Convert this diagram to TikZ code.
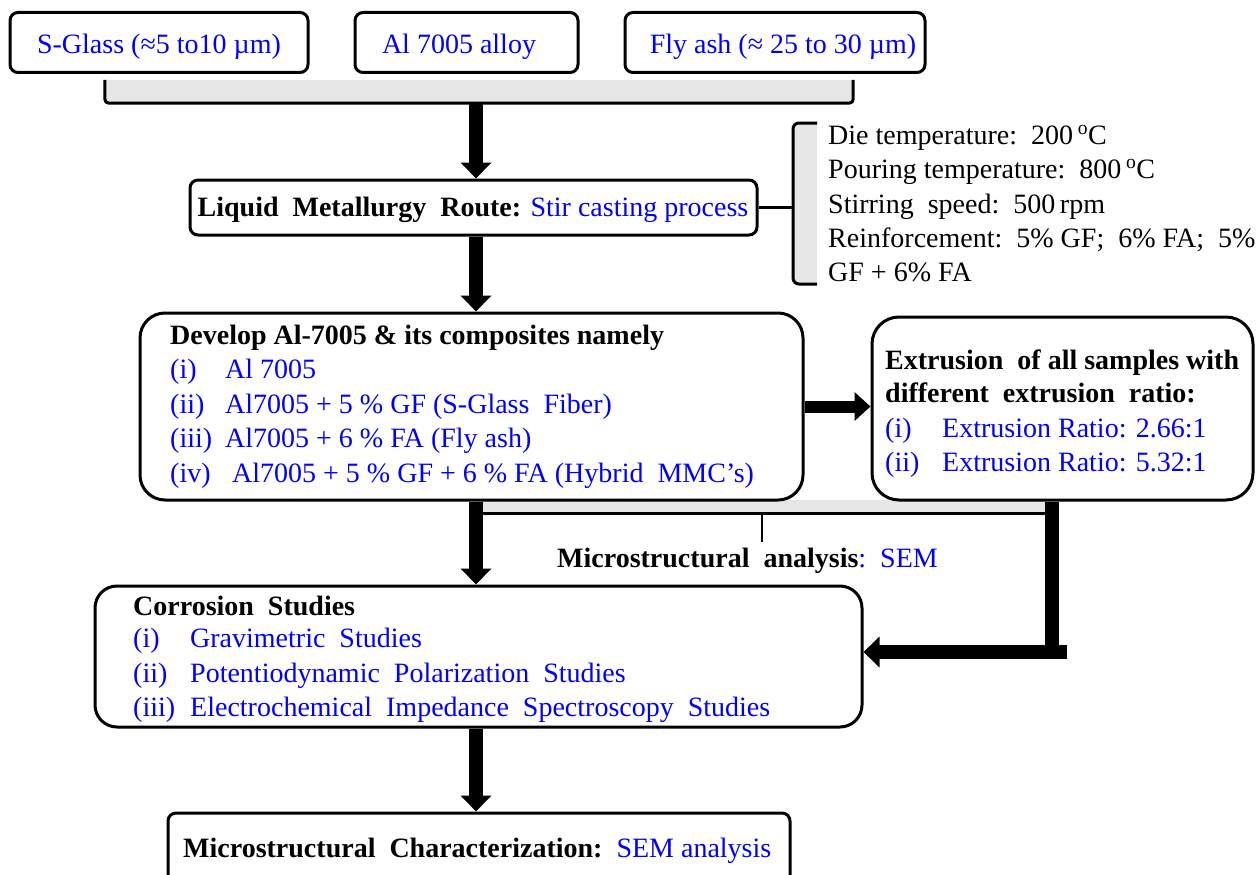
\documentclass[tikz,border=0pt]{standalone}
\usepackage{fontspec}
\setmainfont{Liberation Serif}
\usetikzlibrary{arrows.meta}
\definecolor{bandgray}{HTML}{E6E6E6}
\definecolor{txtblue}{HTML}{0000FF}
\newcommand{\lbl}[2]{\makebox[#1][l]{#2}}
\tikzset{
  box/.style={draw=black, line width=3pt, rounded corners=#1, inner sep=0pt, fill=white},
  band/.style={fill=bandgray, inner sep=0pt, draw=none},
  edge/.style={line width=3pt, rounded corners=4pt},
  bigarrow/.style={line width=14pt, -{Triangle[width=30pt,length=16pt]}},
  sidearrow/.style={line width=12pt, -{Triangle[width=28pt,length=16pt]}},
  txt/.style={inner sep=0pt, anchor=base west, font=\fontsize{28}{34}\selectfont},
  ctxt/.style={inner sep=0pt, anchor=base, font=\fontsize{28}{34}\selectfont},
  blu/.style={text=txtblue},
}
\begin{document}
\begin{tikzpicture}[x=1pt,y=-1pt]
\useasboundingbox (0,0) rectangle (1258,875);
\clip (0,0) rectangle (1258,875);
\coordinate (ax) at (476,0);

% top band
\node[band, minimum width=748pt, minimum height=23pt] (band1) at (479,91.5) {};
\draw[edge] (band1.north west) -- (band1.south west) -- (band1.south east) -- (band1.north east);

% top boxes
\node[box=8pt, minimum width=298pt, minimum height=60pt] (sg) at (159,42.5) {};
\node[ctxt, blu] (sgt) at (159,53) {S-Glass (≈5 to10 µm)};
\node[box=8pt, minimum width=223pt, minimum height=60pt] (al) at (466.5,42.5) {};
\node[ctxt, blu] (alt) at (459,53) {Al 7005 alloy};
\node[box=8pt, minimum width=300pt, minimum height=60pt] (fa) at (775,42.5) {};
\node[ctxt, blu] (fat) at (783,53) {Fly ash (≈ 25 to 30 µm)};

% liquid metallurgy
\node[box=8pt, minimum width=567pt, minimum height=55pt] (lmr) at (473.5,207.5) {};
\node[ctxt] (lmrt) at (473,216) {\bfseries Liquid\ \ Metallurgy\ \ Route: \textcolor{txtblue}{\mdseries Stir\ casting\ process}};
\draw[bigarrow] (band1.south -| ax) -- (lmr.north -| ax);

% brace with parameters
\coordinate (brc) at (793,205);
\fill[bandgray] (793,123) rectangle (817,284);
\draw[edge, rounded corners=6pt] (817,123) -- (793,123) -- (793,284) -- (817,284);
\draw[line width=3pt] (lmr.east) -- (lmr.east -| brc);
\node[txt] (p1) at (828,144) {Die temperature:\ \ 200\,\textsuperscript{o}C};
\node[txt] (p2) at (828,178) {Pouring temperature:\ \ 800\,\textsuperscript{o}C};
\node[txt] (p3) at (828,213) {Stirring\ \ speed:\ \ 500\,rpm};
\node[txt] (p4) at (828,247) {Reinforcement:\ \ 5\% GF;\ \ 6\% FA;\ \ 5\%};
\node[txt] (p5) at (828,281) {GF + 6\% FA};

% second band
\node[band, minimum width=576pt, minimum height=13pt] (band2) at (764,506.5) {};
\draw[edge, rounded corners=0pt] (band2.south west) -- (band2.south east);
\coordinate (tk) at (762,542);
\draw[line width=2pt] (tk |- band2.south) -- (tk);

% develop box
\node[box=25pt, minimum width=663pt, minimum height=187pt] (dev) at (471.5,406.5) {};
\draw[bigarrow] (lmr.south -| ax) -- (dev.north -| ax);
\node[txt] (d0) at (170,344) {\bfseries Develop Al-7005 \& its composites namely};
\node[txt, blu] (d1) at (170,378) {\lbl{55pt}{(i)}Al 7005};
\node[txt, blu] (d2) at (170,413) {\lbl{55pt}{(ii)}Al7005 + 5 \% GF (S-Glass\ \ Fiber)};
\node[txt, blu] (d3) at (170,447) {\lbl{55pt}{(iii)}Al7005 + 6 \% FA (Fly ash)};
\node[txt, blu] (d4) at (170,482) {\lbl{62pt}{(iv)}Al7005 + 5 \% GF + 6 \% FA (Hybrid\ \ MMC’s)};

% extrusion box
\node[box=27pt, minimum width=381pt, minimum height=183pt] (ext) at (1062.5,408.5) {};
\draw[sidearrow] (dev.east) -- (dev.east -| ext.west);
\node[txt] (e0) at (885,369) {\bfseries Extrusion\ \ of all samples with};
\node[txt] (e1) at (885,402) {\bfseries different\ \ extrusion\ \ ratio:};
\node[txt, blu] (e2) at (885,437) {\lbl{57pt}{(i)}Extrusion Ratio: 2.66:1};
\node[txt, blu] (e3) at (885,471) {\lbl{57pt}{(ii)}Extrusion Ratio: 5.32:1};

% microstructural analysis label
\node[txt] (mat) at (557,567) {\bfseries Microstructural\ \ analysis\textcolor{txtblue}{\mdseries :\ \ SEM}};

% corrosion box
\node[box=22pt, minimum width=767pt, minimum height=141pt] (cor) at (478.5,656.5) {};
\draw[bigarrow] (dev.south -| ax) -- (cor.north -| ax);
\node[txt] (c0) at (133,615) {\bfseries Corrosion\ \ Studies};
\node[txt, blu] (c1) at (133,647) {\lbl{57pt}{(i)}Gravimetric\ \ Studies};
\node[txt, blu] (c2) at (133,682) {\lbl{57pt}{(ii)}Potentiodynamic\ \ Polarization\ \ Studies};
\node[txt, blu] (c3) at (133,716) {\lbl{57pt}{(iii)}Electrochemical\ \ Impedance\ \ Spectroscopy\ \ Studies};

% right return connector
\coordinate (rcb) at (1052,659);
\coordinate (rce) at (1067,652);
\draw[line width=14pt] (rcb |- ext.south) -- (rcb);
\draw[bigarrow] (rce) -- (rce -| cor.east);

% final box
\node[box=8pt, minimum width=622pt, minimum height=90pt] (fin) at (479,858) {};
\draw[bigarrow] (cor.south -| ax) -- (fin.north -| ax);
\node[txt] (fint) at (183,857) {\bfseries Microstructural\ \ Characterization:\ \ \textcolor{txtblue}{\mdseries SEM analysis}};
\end{tikzpicture}
\end{document}
